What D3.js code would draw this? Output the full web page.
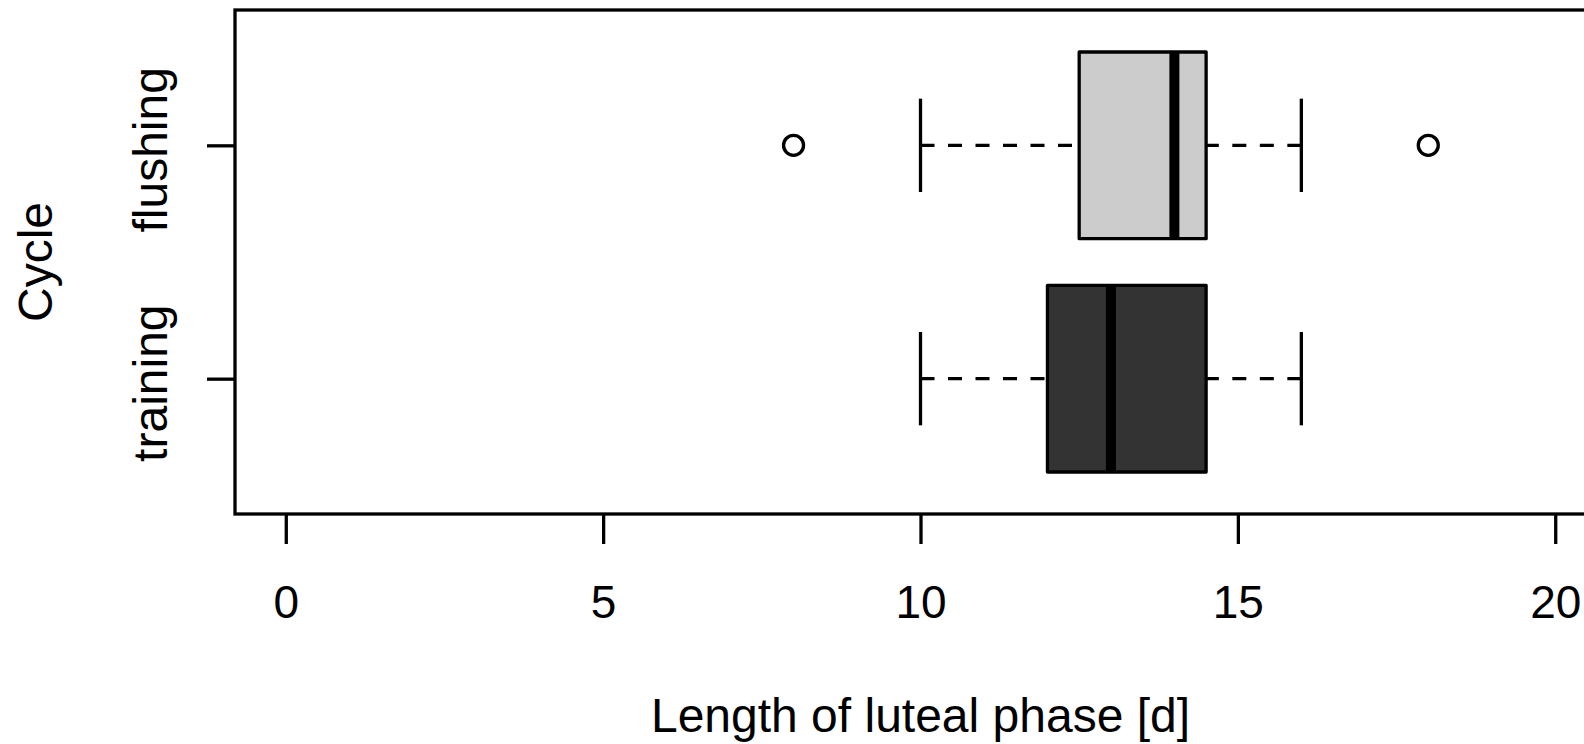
<!DOCTYPE html>
<html>
<head>
<meta charset="utf-8">
<script src="https://cdn.jsdelivr.net/npm/d3@7"></script>
<style>
  body { margin: 0; background: #fff; }
  text { font-family: "Liberation Sans", Arial, sans-serif; }
</style>
</head>
<body>
<div id="chart"></div>
<script>
var categories = ["training", "flushing"];
var lowWhisker = [10, 10];
var lowerQuartile = [12, 12.5];
var medians = [13, 14];
var upperQuartile = [14.5, 14.5];
var highWhisker = [16, 16];
var outliers = [[], [8, 18]];
var boxFills = ["#333333", "#cccccc"];
var xTicks = [0, 5, 10, 15, 20];

function drawBoxplot() {
  var width = 1584, height = 744;
  var lw = 3.3;

  var svg = d3.select("#chart")
    .append("svg")
    .attr("width", width)
    .attr("height", height);

  // R-style 4% expansion on both axes
  var xScale = d3.scaleLinear().domain([-0.8, 20.8]).range([235, 1606]);
  var yScale = d3.scaleLinear().domain([0.42, 2.58]).range([514, 10]);

  var boxes = categories.map(function(c, i) {
    return {
      name: c, pos: i + 1,
      lo: lowWhisker[i], q1: lowerQuartile[i], med: medians[i],
      q3: upperQuartile[i], hi: highWhisker[i],
      out: outliers[i], fill: boxFills[i]
    };
  });

  var half = (yScale(0) - yScale(0.4)); // box half-height (boxwex 0.8)
  var capHalf = half / 2;

  var g = svg.selectAll("g.box")
    .data(boxes)
    .enter()
    .append("g")
    .attr("class", "box");

  // whiskers, drawn from whisker end toward the box
  g.append("line")
    .attr("x1", d => xScale(d.lo)).attr("x2", d => xScale(d.q1))
    .attr("y1", d => yScale(d.pos)).attr("y2", d => yScale(d.pos))
    .attr("stroke", "#000").attr("stroke-width", lw)
    .attr("stroke-dasharray", "14,13.5");
  g.append("line")
    .attr("x1", d => xScale(d.hi)).attr("x2", d => xScale(d.q3))
    .attr("y1", d => yScale(d.pos)).attr("y2", d => yScale(d.pos))
    .attr("stroke", "#000").attr("stroke-width", lw)
    .attr("stroke-dasharray", "14,13.5");

  // staples
  ["lo", "hi"].forEach(function(k) {
    g.append("line")
      .attr("x1", d => xScale(d[k])).attr("x2", d => xScale(d[k]))
      .attr("y1", d => yScale(d.pos) - capHalf).attr("y2", d => yScale(d.pos) + capHalf)
      .attr("stroke", "#000").attr("stroke-width", lw);
  });

  g.append("rect")
    .attr("x", d => xScale(d.q1))
    .attr("width", d => xScale(d.q3) - xScale(d.q1))
    .attr("y", d => yScale(d.pos) - half)
    .attr("height", 2 * half)
    .attr("fill", d => d.fill)
    .attr("stroke", "#000").attr("stroke-width", lw)
    .attr("stroke-linejoin", "round");

  g.append("line")
    .attr("x1", d => xScale(d.med)).attr("x2", d => xScale(d.med))
    .attr("y1", d => yScale(d.pos) - half).attr("y2", d => yScale(d.pos) + half)
    .attr("stroke", "#000").attr("stroke-width", 10);

  g.selectAll("circle")
    .data(d => d.out.map(v => ({ v: v, pos: d.pos })))
    .enter()
    .append("circle")
    .attr("cx", d => xScale(d.v))
    .attr("cy", d => yScale(d.pos))
    .attr("r", 10)
    .attr("fill", "none")
    .attr("stroke", "#000").attr("stroke-width", lw);

  // frame
  svg.append("rect")
    .attr("x", 235).attr("y", 10)
    .attr("width", 1606 - 235).attr("height", 514 - 10)
    .attr("fill", "none").attr("stroke", "#000").attr("stroke-width", lw);

  // x axis
  var xAxis = svg.append("g")
    .attr("transform", "translate(0,514)")
    .call(d3.axisBottom(xScale).tickValues(xTicks).tickSize(30).tickPadding(41));
  xAxis.select(".domain").remove();
  xAxis.selectAll("line").attr("stroke", "#000").attr("stroke-width", lw);
  xAxis.selectAll("text").attr("font-size", "46px").attr("fill", "#000")
    .attr("font-family", "Liberation Sans, Arial, sans-serif");

  // y axis
  var yAxis = svg.append("g")
    .attr("transform", "translate(235,0)")
    .call(d3.axisLeft(yScale).tickValues([1, 2]).tickFormat(d => categories[d - 1]).tickSize(28));
  yAxis.select(".domain").remove();
  yAxis.selectAll("line").attr("stroke", "#000").attr("stroke-width", lw);
  yAxis.selectAll("text")
    .attr("x", null).attr("dy", null)
    .attr("text-anchor", "middle")
    .attr("font-size", "48px").attr("fill", "#000")
    .attr("font-family", "Liberation Sans, Arial, sans-serif")
    .attr("transform", "translate(-68,4) rotate(-90)");

  svg.append("text")
    .attr("x", xScale(10))
    .attr("y", 732)
    .attr("text-anchor", "middle")
    .attr("font-size", "48px")
    .text("Length of luteal phase [d]");

  svg.append("text")
    .attr("transform", "translate(52," + yScale(1.5) + ") rotate(-90)")
    .attr("text-anchor", "middle")
    .attr("font-size", "48px")
    .text("Cycle");
}

document.addEventListener('DOMContentLoaded', function() {
  drawBoxplot();
});
</script>
</body>
</html>
